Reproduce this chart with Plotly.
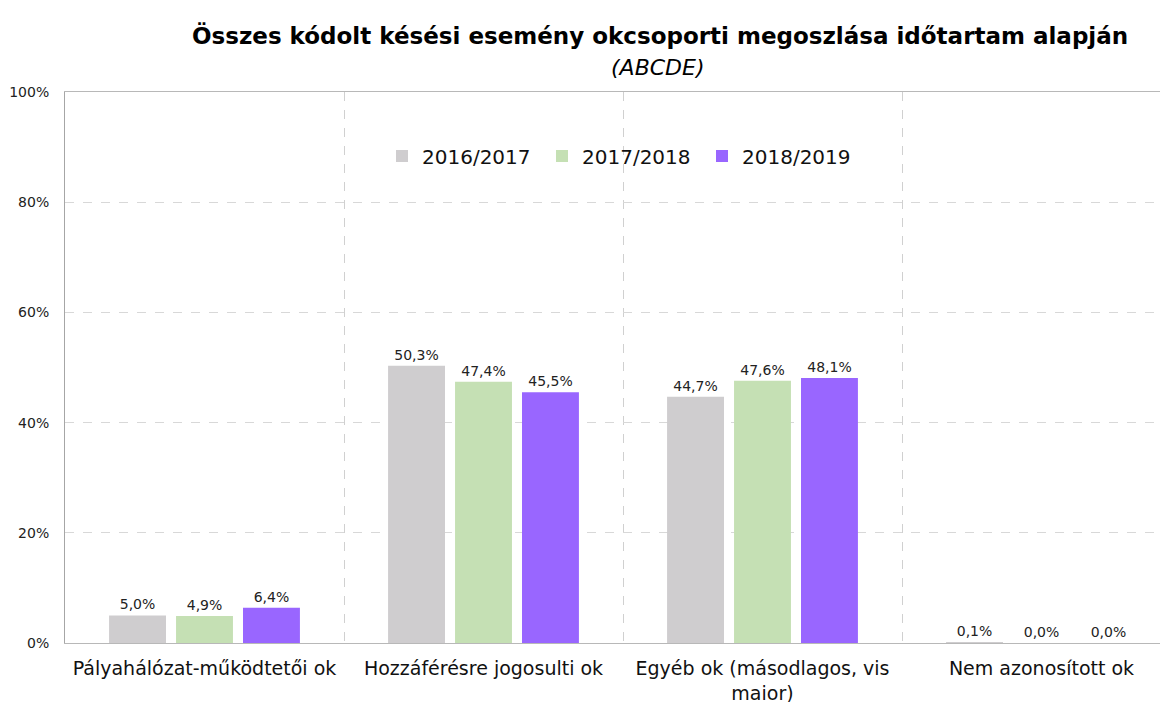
import plotly.graph_objects as go

categories = ["Pályahálózat-működtetői ok", "Hozzáférésre jogosulti ok",
              "Egyéb ok (másodlagos, vis<br>maior)", "Nem azonosított ok"]
series_names = ["2016/2017", "2017/2018", "2018/2019"]
v_2016_2017 = [5.0, 50.3, 44.7, 0.1]
v_2017_2018 = [4.9, 47.4, 47.6, 0.0]
v_2018_2019 = [6.4, 45.5, 48.1, 0.0]
colors = ["#CFCDCF", "#C5E0B4", "#9966FF"]
y_ticks = [0, 20, 40, 60, 80, 100]
y_ticktext = [f"{v}%" for v in y_ticks]

FONT = "DejaVu Sans"

# page body margin of the html page is 8px; layout measured in window pixels
BODY = 8
PL, PT, PH = 65, 92, 551          # plot left/top/height in window px
W, H = 1168, 702
PW = W - (PL - BODY)              # plot extends to figure's right edge
CAT_PX = 279


def px(X):
    return (X - PL) / PW


def py(Y):
    return (PT + PH - Y) / PH


fig = go.Figure()
for name, vals, col in zip(series_names, [v_2016_2017, v_2017_2018, v_2018_2019], colors):
    fig.add_trace(go.Bar(
        x=categories, y=vals, name=name, marker=dict(color=col, line=dict(width=0)),
        texttemplate="%{y:.1f}%", textposition="outside", cliponaxis=False,
        textfont=dict(size=14, color="#222222", family=FONT),
    ))

fig.update_layout(
    width=W, height=H,
    margin=dict(l=PL - BODY, r=0, t=PT - BODY, b=H - (PT - BODY) - PH, autoexpand=False),
    paper_bgcolor="white", plot_bgcolor="white",
    separators=",.",
    barmode="group", bargap=0.28, bargroupgap=0.15,
    font=dict(family=FONT, color="#111111"),
    showlegend=True,
    legend=dict(orientation="h", x=px(622), y=py(156), xanchor="center", yanchor="middle",
                font=dict(size=20, family=FONT, color="#111111"), bgcolor="rgba(0,0,0,0)",
                itemwidth=30, traceorder="normal", entrywidth=115, entrywidthmode="pixels"),
    annotations=[
        dict(text="<b>Összes kódolt késési esemény okcsoporti megoszlása időtartam alapján</b>",
             xref="paper", yref="paper", x=px(659.5), y=py(35),
             xanchor="center", yanchor="middle", showarrow=False,
             font=dict(size=23, family=FONT, color="#000000")),
        dict(text="<i>(ABCDE)</i>", xref="paper", yref="paper",
             x=px(658), y=py(67),
             xanchor="center", yanchor="middle", showarrow=False,
             font=dict(size=22, family=FONT, color="#000000")),
    ],
)
fig.update_xaxes(
    type="category", range=[-0.5, -0.5 + PW / CAT_PX], tickson="boundaries", automargin=False,
    showgrid=True, gridcolor="#D0D0D0", griddash="dash", gridwidth=1,
    showline=True, linecolor="#B8B8B8", linewidth=1, mirror=True,
    ticks="", ticklabelstandoff=8, tickfont=dict(size=19, family=FONT, color="#111111"),
)
fig.update_yaxes(
    range=[0, 100], tickvals=y_ticks, ticktext=y_ticktext, automargin=False,
    showgrid=True, gridcolor="#D8D8D8", griddash="dash", gridwidth=1,
    showline=True, linecolor="#A6A6A6", linewidth=1, zeroline=False,
    ticks="", ticklabelstandoff=12, tickfont=dict(size=14, family=FONT, color="#222222"),
)

fig.write_html("out.html")
